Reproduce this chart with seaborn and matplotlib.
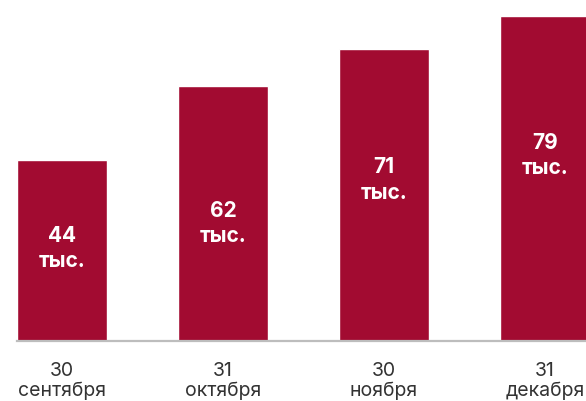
import seaborn as sns
import matplotlib.pyplot as plt

# data
dates = ['30\nсентября', '31\nоктября', '30\nноября', '31\nдекабря']
values = [44, 62, 71, 79]
# where the label sits, as a share of each bar's height
label_pos = [0.51, 0.46, 0.55, 0.57]

sns.set_theme(style="white")
plt.rcParams['font.family'] = ['Inter', 'DejaVu Sans']

fig = plt.figure(figsize=(5.86, 4.01), dpi=100)
ax = fig.add_axes([17 / 586, 60 / 401, 569 / 586, 341 / 401])

sns.barplot(x=dates, y=values, color='#A20B31', saturation=1, width=0.56, ax=ax)

for i, v in enumerate(values):
    ax.text(i, v * label_pos[i], f'{v}\nтыс.', ha='center', va='center',
            color='white', fontsize=15, fontweight='bold', linespacing=1.35)

ax.set_xlim(-0.28, 3.255)
ax.set_ylim(0, 82.8)
ax.set_yticks([])
ax.set_xlabel('')
ax.set_ylabel('')
for s in ['top', 'right', 'left']:
    ax.spines[s].set_visible(False)
ax.spines['bottom'].set_color('#BDBDBD')
ax.spines['bottom'].set_linewidth(1.6)
ax.tick_params(axis='x', length=0, pad=15, labelsize=14, labelcolor='#333333')
for t in ax.get_xticklabels():
    t.set_linespacing(1.1)

fig.savefig('out.png', dpi=100)
